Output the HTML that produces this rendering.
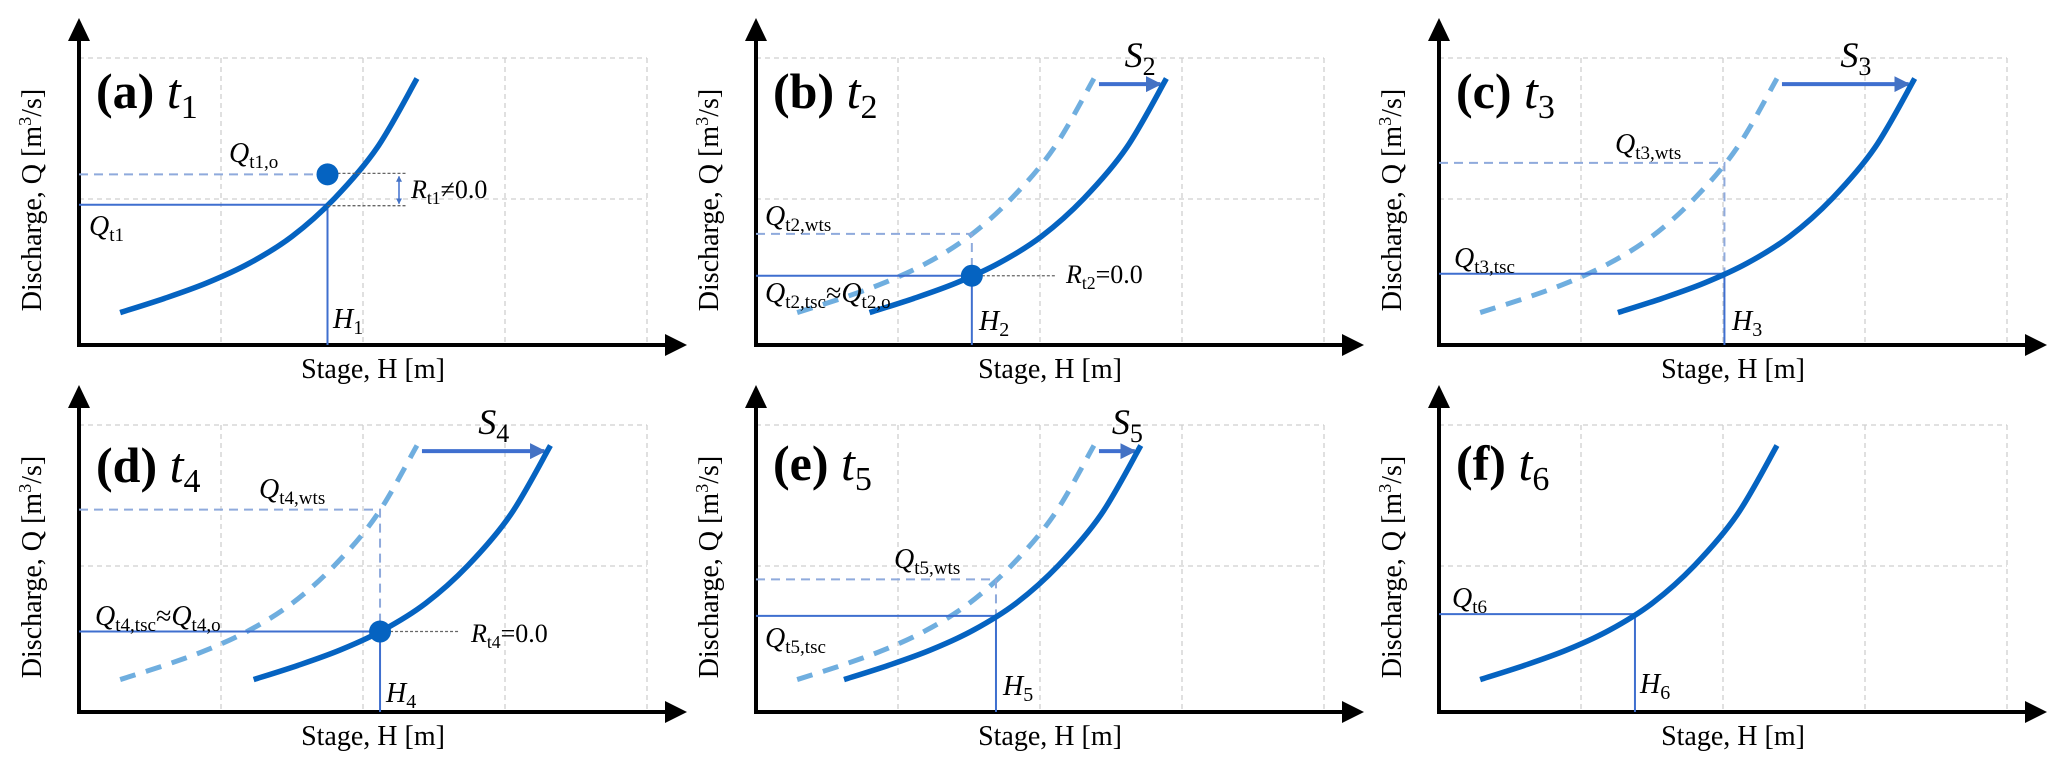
<!DOCTYPE html>
<html><head><meta charset="utf-8"><style>
html,body{margin:0;padding:0;background:#fff;}
svg{display:block;}
svg text{font-family:'Liberation Serif','Times New Roman',Times,'Noto Serif CJK SC','DejaVu Serif',serif;}
</style></head><body>
<svg id="fig" width="2067" height="770" viewBox="0 0 2067 770" xmlns="http://www.w3.org/2000/svg">
<defs>
<marker id="ah" viewBox="0 0 10 10" refX="9" refY="5" markerWidth="4" markerHeight="4" orient="auto-start-reverse"><path d="M0,0 L10,5 L0,10 z" fill="#4472C4"/></marker>
</defs>
</svg>
<script>
// base (without-shift) rating curve: stage H vs discharge Q (grid units)
const baseH = [0.29, 0.60, 0.90, 1.20, 1.50, 1.80, 2.10, 2.38];
const baseQ = [0.23, 0.33, 0.44, 0.58, 0.77, 1.04, 1.40, 1.89];
// per panel values
const panelIds = ['a','b','c','d','e','f'];
const shiftS   = [0, 0.51, 0.97, 0.94, 0.33, 0];
const stageH   = [1.75, 1.52, 2.01, 2.12, 1.69, 1.38];
const observedQ = [1.21, null, null, null, null, null];
const residualText = ['≠0.0', '=0.0', null, '=0.0', null, null];
const showDashed = [false, true, true, true, true, false];
const showDot = [true, true, false, true, false, false];

const NS = 'http://www.w3.org/2000/svg';
const svg = document.getElementById('fig');
const UX = 142, UY = 141;
const origins = [[79,345],[756,345],[1439,345],[79,712],[756,712],[1439,712]];
const C_SOLID = '#0563C1', C_DASH = '#6FAEDF', C_THIN = '#3F6FCF', C_WTS = '#8FAADC';

function mk(tag, attrs, parent) {
  const e = document.createElementNS(NS, tag);
  for (const k in attrs) e.setAttribute(k, attrs[k]);
  (parent || svg).appendChild(e);
  return e;
}
function qAt(h) {
  if (h <= baseH[0]) return baseQ[0];
  for (let i = 1; i < baseH.length; i++) {
    if (h <= baseH[i]) { const t = (h - baseH[i-1]) / (baseH[i] - baseH[i-1]); return baseQ[i-1] + t * (baseQ[i] - baseQ[i-1]); }
  }
  return baseQ[baseQ.length-1];
}
function curvePath(pts) {
  let d = 'M' + pts[0][0] + ',' + pts[0][1];
  for (let i = 0; i < pts.length - 1; i++) {
    const p0 = pts[Math.max(0, i-1)], p1 = pts[i], p2 = pts[i+1], p3 = pts[Math.min(pts.length-1, i+2)];
    const c1 = [p1[0] + (p2[0]-p0[0])/6, p1[1] + (p2[1]-p0[1])/6];
    const c2 = [p2[0] - (p3[0]-p1[0])/6, p2[1] - (p3[1]-p1[1])/6];
    d += ' C' + c1.join(',') + ' ' + c2.join(',') + ' ' + p2.join(',');
  }
  return d;
}
function addText(g, x, y, parts, size, anchor) {
  const t = mk('text', {x: x, y: y, 'font-size': size, fill: '#000', 'text-anchor': anchor || 'start'}, g);
  t.style.fontFamily = "'Liberation Serif','Times New Roman',Times,'Noto Serif CJK SC',serif";
  parts.forEach(p => {
    const s = mk('tspan', {}, t);
    if (p.i) s.setAttribute('font-style', 'italic');
    if (p.b) s.setAttribute('font-weight', 'bold');
    if (p.sub) { s.setAttribute('font-size', p.fs || size * 0.68); s.setAttribute('dy', p.dy); }
    else if (p.dy) s.setAttribute('dy', p.dy);
    if (p.sup) { s.setAttribute('font-size', size * 0.65); s.setAttribute('dy', p.dy); }
    s.textContent = p.t;
  });
  return t;
}
const titleDy = [-237, -237, -237, -230, -232, -232];
const qLabels = [
  [{t:'Q',i:1},{t:'t1',sub:1,dy:6}],
  [{t:'Q',i:1},{t:'t2,tsc',sub:1,dy:6},{t:'≈',dy:-6},{t:'Q',i:1},{t:'t2,o',sub:1,dy:6}],
  [{t:'Q',i:1},{t:'t3,tsc',sub:1,dy:6}],
  [{t:'Q',i:1},{t:'t4,tsc',sub:1,dy:6},{t:'≈',dy:-6},{t:'Q',i:1},{t:'t4,o',sub:1,dy:6}],
  [{t:'Q',i:1},{t:'t5,tsc',sub:1,dy:6}],
  [{t:'Q',i:1},{t:'t6',sub:1,dy:6}]
];
const qLabelPos = [[10,-110],[9,-43],[15,-78],[16,-87],[9,-65],[13,-105]];
const wtsLabelPos = [null,[9,-120],[176,-192],[180,-214],[138,-144],null];
const hLabelPos = [[254,-17],[223,-15],[293,-15],[307,-10],[247,-17],[201,-19]];
const rLabelPos = [[332,-147],[310,-62],null,[392,-70],null,null];

panelIds.forEach((id, k) => {
  const [ox, oy] = origins[k];
  const X = h => ox + h * UX, Y = q => oy - q * UY;
  const g = mk('g', {});
  
  

  const grid = mk('g', {stroke: '#cfcfcf', 'stroke-width': 1.3, 'stroke-dasharray': '5,4', fill: 'none'}, g);
  
  
  for (let i = 1; i <= 4; i++) mk('line', {x1: ox + i*UX, y1: oy - 287, x2: ox + i*UX, y2: oy}, grid);
  [146, 287].forEach(v => mk('line', {x1: ox, y1: oy - v, x2: ox + 4*UX, y2: oy - v}, grid));

  const ya = mk('line', {x1: ox, y1: oy + 2, x2: ox, y2: oy - 305, stroke: '#000', 'stroke-width': 4}, g);
  
  
  mk('path', {d: `M${ox-11},${oy-304} L${ox},${oy-327} L${ox+11},${oy-304} z`, fill: '#000'}, g);
  const xa = mk('line', {x1: ox - 2, x2: ox + 588, y1: oy, y2: oy, stroke: '#000', 'stroke-width': 4}, g);
  
  
  mk('path', {d: `M${ox+586},${oy-11} L${ox+608},${oy} L${ox+586},${oy+11} z`, fill: '#000'}, g);

  const xt = addText(g, ox + 294, oy + 33, [{t:'Stage, H [m]'}], 28, 'middle');
  
  
  const yt = addText(g, 0, 0, [{t:'Discharge, Q [m'},{t:'3',sup:1,dy:-10},{t:'/s]',dy:10}], 28, 'middle');
  yt.setAttribute('transform', `translate(${ox-38},${oy-145}) rotate(-90)`);
  
  

  const tt = addText(g, ox + 17, oy + titleDy[k], [{t:'('+id+')',b:1},{t:' '},{t:'t',i:1},{t:String(k+1),sub:1,dy:10,fs:34}], 50);
  
  

  const s = shiftS[k], H = stageH[k];
  const qT = qAt(H - s);
  if (showDashed[k]) {
    const pts = baseH.map((h, i) => [X(h), Y(baseQ[i])]);
    const dc = mk('path', {d: curvePath(pts), fill: 'none', stroke: C_DASH, 'stroke-width': 5, 'stroke-dasharray': '16,11'}, g);
    
    
    const qW = qAt(H);
    const wl = mk('polyline', {points: `${ox},${Y(qW)} ${X(H)},${Y(qW)} ${X(H)},${Y(qT)}`, fill: 'none', stroke: C_WTS, 'stroke-width': 2, 'stroke-dasharray': '9,6'}, g);
    
    
    const wlab = addText(g, ox + wtsLabelPos[k][0], oy + wtsLabelPos[k][1], [{t:'Q',i:1},{t:'t'+(k+1)+',wts',sub:1,dy:6}], 28);
    
    
    const topQ = baseQ[baseQ.length-1] - 0.04;
    const hEnd = baseH[baseH.length-1];
    const sa = mk('line', {x1: X(hEnd) + 5, y1: Y(topQ), x2: X(hEnd + s) - 6, y2: Y(topQ), stroke: C_THIN, 'stroke-width': 4, 'marker-end': 'url(#ah)'}, g);
    
    
    const sl = addText(g, (X(hEnd) + X(hEnd + s)) / 2 + 10, oy - 278, [{t:'S',i:1},{t:String(k+1),sub:1,dy:8,fs:26}], 36, 'middle');
    
    
  }
  const ql = mk('polyline', {points: `${ox},${Y(qT)} ${X(H)},${Y(qT)} ${X(H)},${oy}`, fill: 'none', stroke: C_THIN, 'stroke-width': 2}, g);
  
  
  const spts = baseH.map((h, i) => [X(h + s), Y(baseQ[i])]);
  const sc = mk('path', {d: curvePath(spts), fill: 'none', stroke: C_SOLID, 'stroke-width': 5.5}, g);
  
  

  if (showDot[k]) {
    const qo = observedQ[k] != null ? observedQ[k] : qT;
    if (observedQ[k] != null) {
      const ol = mk('line', {x1: ox, y1: Y(qo), x2: X(H), y2: Y(qo), stroke: C_WTS, 'stroke-width': 2, 'stroke-dasharray': '9,6'}, g);
      
      
      const bx = ox + 320;
      mk('line', {x1: X(H), y1: Y(qo) - 1, x2: bx + 8, y2: Y(qo) - 1, stroke: '#666', 'stroke-width': 1.3, 'stroke-dasharray': '3,2'}, g);
      mk('line', {x1: X(H), y1: Y(qT) + 1, x2: bx + 8, y2: Y(qT) + 1, stroke: '#666', 'stroke-width': 1.3, 'stroke-dasharray': '3,2'}, g);
      const ra = mk('line', {x1: bx, y1: Y(qo) + 2, x2: bx, y2: Y(qT) - 1, stroke: C_THIN, 'stroke-width': 1.5, 'marker-start': 'url(#ah)', 'marker-end': 'url(#ah)'}, g);
      
      
      const ol2 = addText(g, ox + 150, oy - 183, [{t:'Q',i:1},{t:'t1,o',sub:1,dy:6}], 28);
      
      
    } else {
      const rx = k === 1 ? ox + 299 : ox + 381;
      mk('line', {x1: X(H) + 10, y1: Y(qT), x2: rx, y2: Y(qT), stroke: '#666', 'stroke-width': 1.3, 'stroke-dasharray': '3,2'}, g);
    }
    const dot = mk('ellipse', {cx: X(H), cy: Y(qo), rx: 11, ry: 11, fill: C_SOLID}, g);
    
    
    const rl = addText(g, ox + rLabelPos[k][0], oy + rLabelPos[k][1], [{t:'R',i:1},{t:'t'+(k+1),sub:1,dy:6},{t:residualText[k],dy:-6}], 26);
    
    
  }
  const qlab = addText(g, ox + qLabelPos[k][0], oy + qLabelPos[k][1], qLabels[k], 28);
  
  
  const hlab = addText(g, ox + hLabelPos[k][0], oy + hLabelPos[k][1], [{t:'H',i:1},{t:String(k+1),sub:1,dy:6,fs:20}], 28);
  
  
});
</script>
</body></html>
